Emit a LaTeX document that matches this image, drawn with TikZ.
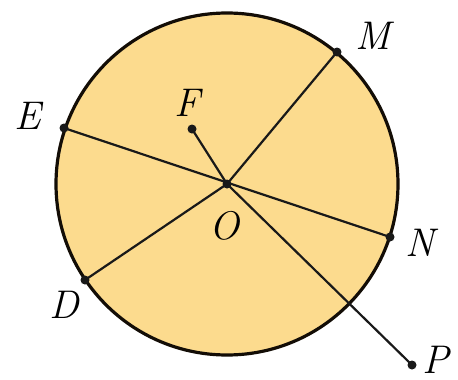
\documentclass[tikz,border=0pt]{standalone}
\begin{document}
\begin{tikzpicture}[x=1pt,y=-1pt,
  lbl/.style={font=\fontsize{40}{42}\selectfont\itshape, inner sep=0pt},
  dot/.style={circle, fill=black!90, inner sep=0pt, minimum size=9pt},
  seg/.style={line width=2.2pt, black!90}]
\useasboundingbox (0,0) rectangle (458,380);
\fill[fill={rgb,255:red,252;green,219;blue,142}] (227,184) circle (171);
\draw[line width=3.2pt, black!90!brown] (227,184) circle (171);
\node[dot] (O) at (227,184) {};
\node[dot] (M) at (337,52) {};
\node[dot] (E) at (64,128) {};
\node[dot] (F) at (192,129) {};
\node[dot] (N) at (390,237) {};
\node[dot] (D) at (85,280) {};
\node[dot] (P) at (412,365) {};
\draw[seg] (E.center) -- (N.center);
\draw[seg] (D.center) -- (O.center) -- (M.center);
\draw[seg] (F.center) -- (O.center) -- (P.center);
\node[lbl] at (373,36) {M};
\node[lbl] at (28,116) {E};
\node[lbl] at (187,103) {F};
\node[lbl] at (224,226) {O};
\node[lbl] at (420,243) {N};
\node[lbl] at (64,305) {D};
\node[lbl] at (436,360) {P};
\end{tikzpicture}
\end{document}
